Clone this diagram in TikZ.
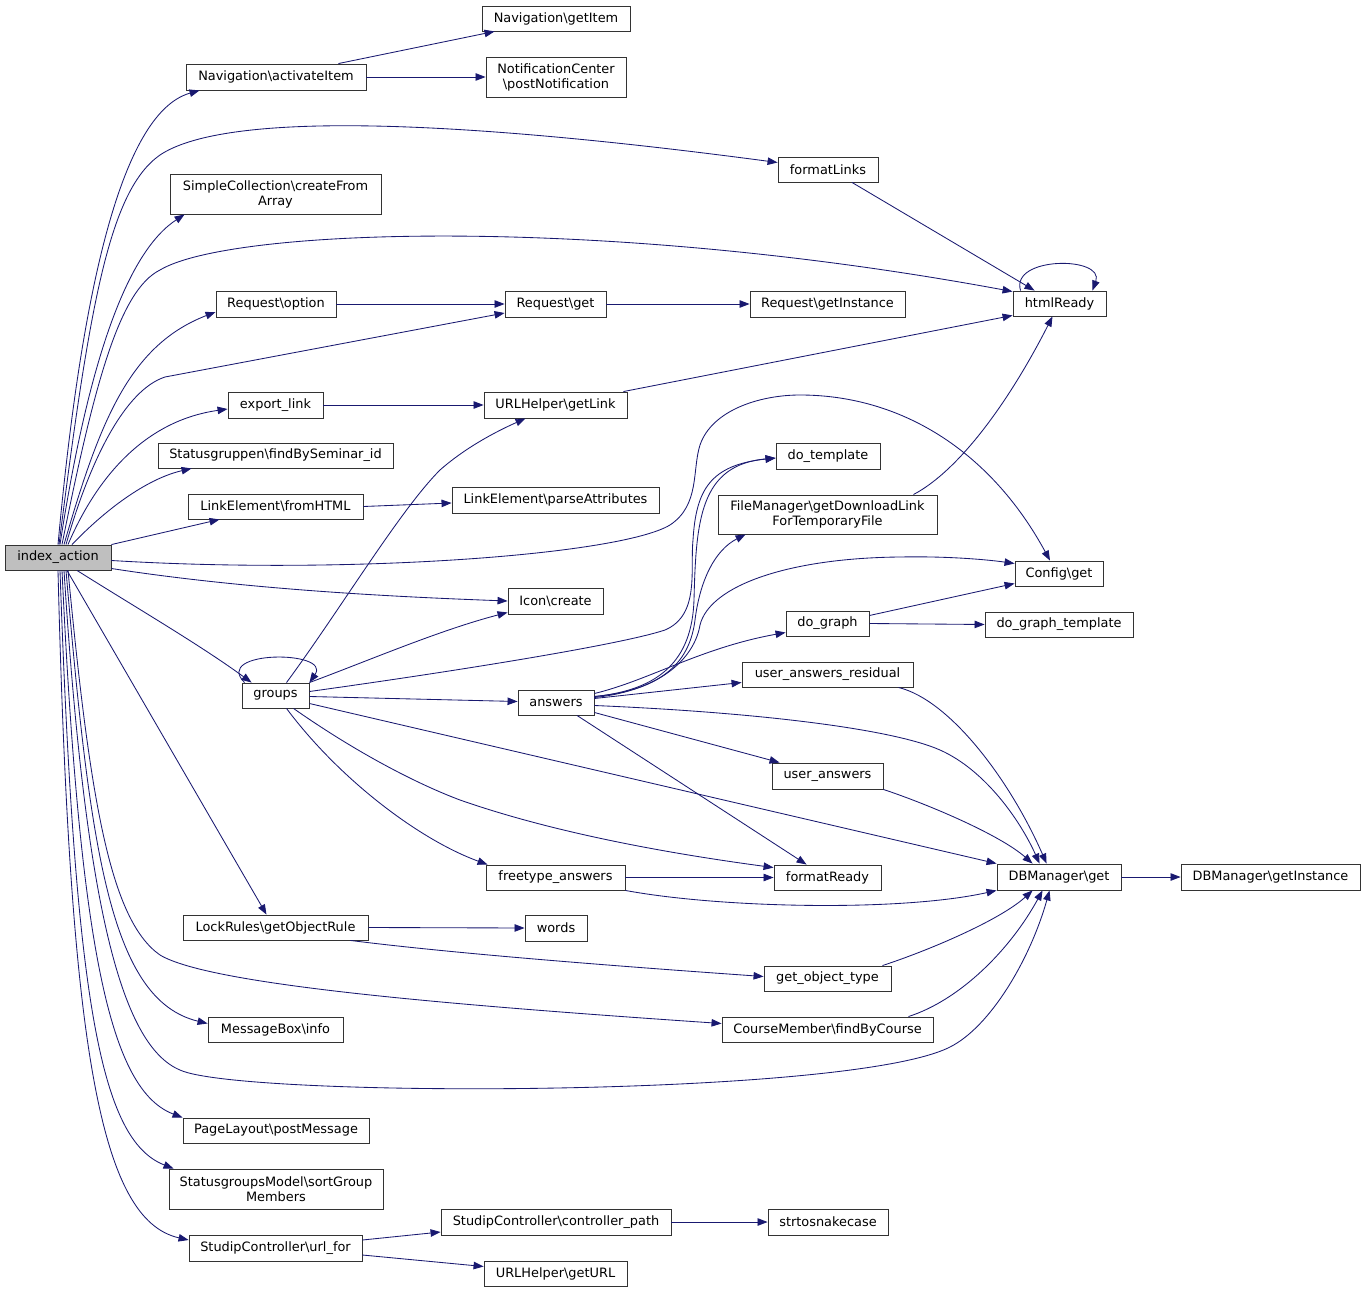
\documentclass[tikz,border=0pt]{standalone}
\usepackage{fontspec}
\newfontfamily\dvfont{DejaVu Sans}
\usetikzlibrary{arrows.meta}
\definecolor{edgecol}{HTML}{191970}
\definecolor{idxfill}{HTML}{BFBFBF}
\definecolor{boxline}{HTML}{333333}
\tikzset{
  box/.style={draw=boxline, line width=0.9pt, fill=white, inner sep=0pt, align=center,
    font=\dvfont\fontsize{12.9}{15}\selectfont},
  edge/.style={draw=edgecol, line width=0.85pt, -{Triangle[length=10pt,width=7.5pt]}}
}
\begin{document}
\begin{tikzpicture}[x=1pt,y=-1pt]
\useasboundingbox (0,0) rectangle (1365,1292);
% nodes
\node[box,fill=idxfill,minimum width=106pt,minimum height=25pt] (idx) at (58,557.5) {index\_action};
\node[box,minimum width=180pt,minimum height=26pt] (nav) at (276,77) {Navigation\textbackslash activateItem};
\node[box,minimum width=148pt,minimum height=25pt] (ngi) at (556,18.5) {Navigation\textbackslash getItem};
\node[box,minimum width=140pt,minimum height=40pt] (nc) at (556,77) {NotificationCenter\\\textbackslash postNotification};
\node[box,minimum width=100pt,minimum height=25pt] (fl) at (828,169.5) {formatLinks};
\node[box,minimum width=211pt,minimum height=40pt] (sc) at (275.5,194) {SimpleCollection\textbackslash createFrom\\Array};
\node[box,minimum width=120pt,minimum height=26pt] (ropt) at (276,304) {Request\textbackslash option};
\node[box,minimum width=101pt,minimum height=26pt] (rget) at (555.5,304) {Request\textbackslash get};
\node[box,minimum width=155pt,minimum height=26pt] (rgi) at (827.5,304) {Request\textbackslash getInstance};
\node[box,minimum width=93pt,minimum height=25pt] (html) at (1059.5,303.5) {htmlReady};
\node[box,minimum width=95pt,minimum height=26pt] (expl) at (275.5,405) {export\_link};
\node[box,minimum width=143pt,minimum height=26pt] (ugl) at (555.5,405) {URLHelper\textbackslash getLink};
\node[box,minimum width=235pt,minimum height=25pt] (sg) at (275.5,455.5) {Statusgruppen\textbackslash findBySeminar\_id};
\node[box,minimum width=175pt,minimum height=25pt] (lefh) at (275.5,506.5) {LinkElement\textbackslash fromHTML};
\node[box,minimum width=207pt,minimum height=26pt] (pa) at (555.5,500) {LinkElement\textbackslash parseAttributes};
\node[box,minimum width=104pt,minimum height=26pt] (dt) at (828,456) {do\_template};
\node[box,minimum width=219pt,minimum height=39pt] (fm) at (827.5,514.5) {FileManager\textbackslash getDownloadLink\\ForTemporaryFile};
\node[box,minimum width=88pt,minimum height=25pt] (cfg) at (1059,573.5) {Config\textbackslash get};
\node[box,minimum width=95pt,minimum height=26pt] (icon) at (555.5,601) {Icon\textbackslash create};
\node[box,minimum width=83pt,minimum height=25pt] (dg) at (827.5,623.5) {do\_graph};
\node[box,minimum width=148pt,minimum height=25pt] (dgt) at (1059,624.5) {do\_graph\_template};
\node[box,minimum width=171pt,minimum height=25pt] (uar) at (827.5,674.5) {user\_answers\_residual};
\node[box,minimum width=67pt,minimum height=25pt] (grp) at (275.5,695.5) {groups};
\node[box,minimum width=76pt,minimum height=25pt] (ans) at (556,702.5) {answers};
\node[box,minimum width=111pt,minimum height=26pt] (ua) at (827.5,776) {user\_answers};
\node[box,minimum width=139pt,minimum height=25pt] (ft) at (555.5,877.5) {freetype\_answers};
\node[box,minimum width=107pt,minimum height=25pt] (fr) at (827.5,877.5) {formatReady};
\node[box,minimum width=124pt,minimum height=26pt] (db) at (1059,877) {DBManager\textbackslash get};
\node[box,minimum width=179pt,minimum height=26pt] (dbi) at (1270.5,877) {DBManager\textbackslash getInstance};
\node[box,minimum width=185pt,minimum height=25pt] (lr) at (275.5,927.5) {LockRules\textbackslash getObjectRule};
\node[box,minimum width=62pt,minimum height=26pt] (words) at (556,928) {words};
\node[box,minimum width=127pt,minimum height=25pt] (got) at (827.5,978.5) {get\_object\_type};
\node[box,minimum width=135pt,minimum height=25pt] (mb) at (275.5,1029.5) {MessageBox\textbackslash info};
\node[box,minimum width=211pt,minimum height=25pt] (cm) at (827.5,1029.5) {CourseMember\textbackslash findByCourse};
\node[box,minimum width=186pt,minimum height=25pt] (pl) at (276,1130.5) {PageLayout\textbackslash postMessage};
\node[box,minimum width=214pt,minimum height=40pt] (sgm) at (276,1189) {StatusgroupsModel\textbackslash sortGroup\\Members};
\node[box,minimum width=173pt,minimum height=26pt] (uf) at (275.5,1248) {StudipController\textbackslash url\_for};
\node[box,minimum width=230pt,minimum height=26pt] (cp) at (556,1222) {StudipController\textbackslash controller\_path};
\node[box,minimum width=120pt,minimum height=26pt] (sts) at (828,1222) {strtosnakecase};
\node[box,minimum width=143pt,minimum height=25pt] (gurl) at (555.5,1273.5) {URLHelper\textbackslash getURL};
% edges from index_action (upwards)
\draw[edge] ([xshift=0pt]idx.north) .. controls (85,250) and (130,110) .. ([xshift=14pt]nav.south west);
\draw[edge] ([xshift=1pt]idx.north) .. controls (90,300) and (110,190) .. (160,155) .. controls (220,115) and (420,115) .. ([yshift=7pt]fl.west);
\draw[edge] ([xshift=2pt]idx.north) .. controls (90,350) and (130,250) .. ([xshift=15pt]sc.south west);
\draw[edge] ([xshift=4pt]idx.north) .. controls (95,380) and (120,290) .. (160,270) .. controls (230,228) and (600,215) .. ([yshift=-1pt]html.north west);
\draw[edge] ([xshift=6pt]idx.north) .. controls (100,420) and (130,345) .. ([yshift=-8pt]ropt.west);
\draw[edge] ([xshift=8pt]idx.north) .. controls (90,460) and (125,390) .. (165,377) -- ([yshift=-9pt]rget.west);
\draw[edge] ([xshift=10pt]idx.north) .. controls (100,470) and (150,420) .. ([yshift=-4pt]expl.west);
\draw[edge] ([xshift=14pt]idx.north) .. controls (110,505) and (150,478) .. ([xshift=34pt]sg.south west);
\draw[edge] (idx.north east) -- ([xshift=32pt]lefh.south west);
\draw[edge] ([yshift=-3pt]idx.east) .. controls (350,575) and (620,555) .. (670,525) .. controls (700,505) and (692,470) .. (700,445) .. controls (712,410) and (760,395) .. (800,395) .. controls (900,395) and (990,450) .. ([xshift=-9pt]cfg.north);
\draw[edge] ([yshift=-11pt]idx.east) .. controls (250,590) and (400,597) .. (icon.west);
\draw[edge] ([xshift=19pt]idx.south) .. controls (140,610) and (200,645) .. ([xshift=10pt]grp.north west);
\draw[edge] ([xshift=9pt]idx.south) -- ([xshift=-9pt]lr.north);
% edges from index_action (downwards)
\draw[edge] ([xshift=10pt]idx.south) .. controls (90,800) and (110,920) .. (160,955) .. controls (210,985) and (450,1005) .. ([yshift=6pt]cm.west);
\draw[edge] ([xshift=8pt]idx.south) .. controls (90,850) and (110,1000) .. ([yshift=6pt]mb.west);
\draw[edge] ([xshift=6pt]idx.south) .. controls (85,900) and (120,1045) .. (180,1070) .. controls (240,1098) and (850,1098) .. (950,1047) .. controls (990,1027) and (1030,960) .. ([xshift=53pt]db.south west);
\draw[edge] ([xshift=4pt]idx.south) .. controls (80,950) and (110,1090) .. (pl.north west);
\draw[edge] ([xshift=2pt]idx.south) .. controls (75,1000) and (100,1140) .. ([xshift=5pt]sgm.north west);
\draw[edge] (idx.south) .. controls (70,1050) and (100,1220) .. ([yshift=8pt]uf.west);
% other edges
\draw[edge] ([xshift=-28pt]nav.north east) -- ([xshift=13pt]ngi.south west);
\draw[edge] (nav.east) -- (nc.west);
\draw[edge] ([xshift=24pt]fl.south) -- ([xshift=22pt]html.north west);
\draw[edge] ([xshift=8pt]html.north west) .. controls (1010,256) and (1105,256) .. ([xshift=-14pt]html.north east);
\draw[edge] (ropt.east) -- (rget.west);
\draw[edge] (rget.east) -- (rgi.west);
\draw[edge] (expl.east) -- (ugl.west);
\draw[edge] ([xshift=-4pt]ugl.north east) -- ([yshift=1pt]html.south west);
\draw[edge] (lefh.east) -- ([yshift=-3pt]pa.west);
\draw[edge] ([xshift=-24pt]fm.north east) .. controls (960,470) and (1010,400) .. ([xshift=-7pt]html.south);
\draw[edge] ([yshift=8pt]dg.east) -- ([yshift=-10pt]cfg.west);
\draw[edge] (dg.east) -- (dgt.west);
% groups
\draw[edge] ([xshift=3pt]grp.north west) .. controls (212,650) and (332,650) .. (grp.north east);
\draw[edge] ([xshift=11pt]grp.north) .. controls (340,610) and (400,510) .. (440,470) .. controls (465,448) and (495,432) .. ([xshift=-30pt]ugl.south);
\draw[edge] (grp.north east) .. controls (370,660) and (440,630) .. ([yshift=2pt]icon.south west);
\draw[edge] ([yshift=4pt]grp.east) .. controls (450,672) and (620,645) .. (665,630) .. controls (700,615) and (690,570) .. (693,540) .. controls (696,490) and (710,465) .. ([yshift=-2pt]dt.west);
\draw[edge] ([yshift=-1pt]grp.east) -- ([yshift=1pt]ans.west);
\draw[edge] ([yshift=-8pt]grp.east) -- (db.north west);
\draw[edge] ([xshift=18pt]grp.south) .. controls (360,755) and (420,785) .. (460,800) .. controls (560,835) and (680,855) .. ([yshift=-3pt]fr.north west);
\draw[edge] ([xshift=11pt]grp.south) .. controls (340,780) and (420,840) .. ([xshift=2pt]ft.north west);
% answers
\draw[edge] ([yshift=4pt]ans.east) -- ([yshift=-8pt]uar.west);
\draw[edge] ([yshift=9pt]ans.east) .. controls (650,680) and (700,648) .. ([yshift=-9pt]dg.west);
\draw[edge] ([yshift=6pt]ans.east) .. controls (660,690) and (692,660) .. (694,600) .. controls (696,520) and (700,465) .. ([yshift=-2pt]dt.west);
\draw[edge] ([yshift=6pt]ans.east) .. controls (665,690) and (690,660) .. (695,620) .. controls (700,580) and (715,550) .. ([xshift=28pt]fm.south west);
\draw[edge] ([yshift=5pt]ans.east) .. controls (665,690) and (695,655) .. (700,625) .. controls (710,585) and (790,558) .. (900,557) .. controls (950,556) and (990,560) .. ([yshift=10pt]cfg.west);
\draw[edge] ([yshift=-3pt]ans.east) .. controls (750,712) and (890,728) .. (940,750) .. controls (985,770) and (1020,820) .. ([xshift=43pt]db.north west);
\draw[edge] ([yshift=-10pt]ans.east) -- ([xshift=8pt]ua.north west);
\draw[edge] ([xshift=21pt]ans.south) -- ([xshift=33pt]fr.north west);
% into DBManager
\draw[edge] ([xshift=-15pt]uar.south east) .. controls (950,700) and (1010,780) .. ([xshift=50pt]db.north west);
\draw[edge] (ua.south east) .. controls (930,805) and (1000,835) .. ([xshift=36pt]db.north west);
\draw[edge] (ft.east) -- (fr.west);
\draw[edge] (ft.south east) .. controls (720,908) and (900,912) .. (db.south west);
\draw[edge] (lr.east) -- (words.west);
\draw[edge] ([xshift=-18pt]lr.south east) .. controls (450,953) and (600,965) .. ([yshift=2pt]got.west);
\draw[edge] ([xshift=-9pt]got.north east) .. controls (930,950) and (1000,920) .. ([xshift=36pt]db.south west);
\draw[edge] ([xshift=-25pt]cm.north east) .. controls (960,1000) and (1010,950) .. ([xshift=46pt]db.south west);
\draw[edge] (db.east) -- (dbi.west);
% url_for
\draw[edge] ([yshift=8pt]uf.east) -- ([yshift=-10pt]cp.west);
\draw[edge] ([yshift=-7pt]uf.east) -- ([yshift=7pt]gurl.west);
\draw[edge] (cp.east) -- (sts.west);
\end{tikzpicture}
\end{document}
